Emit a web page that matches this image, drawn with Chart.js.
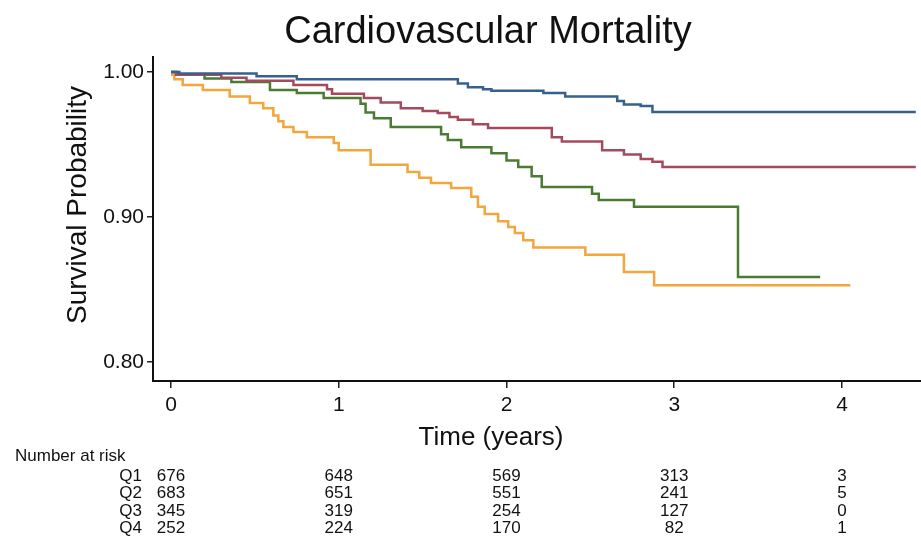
<!DOCTYPE html>
<html>
<head>
<meta charset="utf-8">
<script src="https://cdn.jsdelivr.net/npm/chart.js@4/dist/chart.umd.min.js"></script>
<style>
  body { margin: 0; background: #fff; }
  #wrap { width: 921px; height: 541px; position: relative; }
</style>
</head>
<body>
<div id="wrap"><canvas id="kmChart"></canvas></div>
<script>
// Kaplan-Meier step points: [time, survival]
const q1Curve = [[0,1.0],[0.05,0.999],[0.51,0.997],[0.75,0.995],[1.71,0.992],[1.77,0.9895],[1.86,0.988],[1.91,0.987],[2.22,0.9855],[2.35,0.983],[2.66,0.980],[2.70,0.9775],[2.80,0.9765],[2.87,0.9724],[4.44,0.9724]];
const q2Curve = [[0,1.0],[0.03,0.998],[0.30,0.996],[0.45,0.994],[0.73,0.991],[0.93,0.988],[0.96,0.985],[1.15,0.982],[1.25,0.979],[1.37,0.975],[1.50,0.973],[1.59,0.9717],[1.66,0.969],[1.71,0.967],[1.80,0.964],[1.89,0.9614],[2.27,0.955],[2.33,0.952],[2.57,0.946],[2.70,0.943],[2.80,0.940],[2.87,0.938],[2.93,0.9345],[4.44,0.9345]];
const q3Curve = [[0,1.0],[0.04,0.998],[0.20,0.9955],[0.36,0.993],[0.59,0.9876],[0.75,0.9855],[0.91,0.982],[1.13,0.978],[1.16,0.972],[1.21,0.968],[1.31,0.962],[1.61,0.957],[1.65,0.953],[1.73,0.948],[1.91,0.944],[2.00,0.939],[2.07,0.9345],[2.15,0.928],[2.21,0.9207],[2.51,0.916],[2.55,0.9117],[2.76,0.907],[3.38,0.8586],[3.87,0.8586]];
const q4Curve = [[0,0.998],[0.02,0.995],[0.07,0.991],[0.19,0.9876],[0.35,0.983],[0.47,0.9786],[0.55,0.975],[0.61,0.970],[0.64,0.966],[0.67,0.962],[0.73,0.9586],[0.81,0.955],[0.97,0.951],[1.00,0.946],[1.19,0.936],[1.41,0.931],[1.48,0.927],[1.55,0.9234],[1.67,0.920],[1.79,0.914],[1.83,0.907],[1.87,0.902],[1.95,0.897],[2.01,0.893],[2.05,0.889],[2.10,0.884],[2.16,0.879],[2.47,0.874],[2.70,0.862],[2.88,0.853],[4.05,0.853]];

const groupNames = ['Q1', 'Q2', 'Q3', 'Q4'];
const groupColors = ['#36618f', '#a34b5d', '#4a7b32', '#f2a63c'];

const xTicks = [0, 1, 2, 3, 4];
const yTicks = [0.80, 0.90, 1.00];

// number at risk table
const riskTimes = [0, 1, 2, 3, 4];
const q1Risk = [676, 648, 569, 313, 3];
const q2Risk = [683, 651, 551, 241, 5];
const q3Risk = [345, 319, 254, 127, 0];
const q4Risk = [252, 224, 170, 82, 1];

const chartTitle = 'Cardiovascular Mortality';
const xTitle = 'Time (years)';
const yTitle = 'Survival Probability';
const riskTitle = 'Number at risk';

const FONT = '"Liberation Sans", Arial, Helvetica, sans-serif';

function toPoints(curve) {
    return curve.map(p => ({ x: p[0], y: p[1] }));
}

const curves = [q1Curve, q2Curve, q3Curve, q4Curve];
const riskRows = [q1Risk, q2Risk, q3Risk, q4Risk];

// titles + number at risk drawn on the same canvas
const extraText = {
    id: 'extraText',
    afterDraw(chart) {
        const ctx = chart.ctx;
        const xs = chart.scales.x;
        ctx.save();
        ctx.fillStyle = '#111';

        ctx.font = '38px ' + FONT;
        ctx.textAlign = 'center';
        ctx.textBaseline = 'alphabetic';
        ctx.fillText(chartTitle, 488, 43);

        ctx.font = '26px ' + FONT;
        ctx.textBaseline = 'middle';
        ctx.fillText(xTitle, 491, 438);

        ctx.save();
        ctx.translate(78, 205);
        ctx.rotate(-Math.PI / 2);
        ctx.font = '28px ' + FONT;
        ctx.fillText(yTitle, 0, 0);
        ctx.restore();

        ctx.font = '17px ' + FONT;
        ctx.textAlign = 'left';
        ctx.fillText(riskTitle, 15, 456);

        const rowY = [476, 493.5, 511, 528.5];
        riskRows.forEach((row, r) => {
            ctx.textAlign = 'right';
            ctx.fillText(groupNames[r], 142, rowY[r]);
            ctx.textAlign = 'center';
            row.forEach((n, i) => {
                ctx.fillText(String(n), xs.getPixelForValue(riskTimes[i]), rowY[r]);
            });
        });
        ctx.restore();
    }
};

new Chart(document.getElementById('kmChart'), {
    type: 'line',
    data: {
        datasets: curves.map((c, i) => ({
            label: groupNames[i],
            data: toPoints(c),
            stepped: true,
            borderColor: groupColors[i],
            borderWidth: 2.5,
            pointRadius: 0,
            fill: false
        }))
    },
    options: {
        responsive: true,
        maintainAspectRatio: false,
        animation: false,
        layout: { padding: { top: 57, left: 0, right: 0, bottom: 0 } },
        plugins: {
            legend: { display: false },
            tooltip: { enabled: false },
            title: { display: false }
        },
        scales: {
            x: {
                type: 'linear',
                min: -0.1073,
                max: 4.471,
                afterBuildTicks: (scale) => { scale.ticks = xTicks.map(v => ({ value: v })); },
                afterFit: (scale) => { scale.height = 160; },
                ticks: {
                    color: '#111',
                    font: { family: FONT, size: 21 },
                    padding: 5,
                    maxRotation: 0,
                    callback: (v) => String(v)
                },
                grid: { drawOnChartArea: false, tickLength: 7, color: '#222', lineWidth: 1.5 },
                border: { display: true, color: '#111', width: 2 }
            },
            y: {
                min: 0.7869,
                max: 1.0103,
                afterBuildTicks: (scale) => { scale.ticks = yTicks.map(v => ({ value: v })); },
                afterFit: (scale) => { scale.width = 153; },
                ticks: {
                    color: '#111',
                    font: { family: FONT, size: 21 },
                    padding: 3,
                    callback: (v) => Number(v).toFixed(2)
                },
                grid: { drawOnChartArea: false, tickLength: 6, color: '#222', lineWidth: 1.5 },
                border: { display: true, color: '#111', width: 2 }
            }
        }
    },
    plugins: [extraText]
});
</script>
</body>
</html>
